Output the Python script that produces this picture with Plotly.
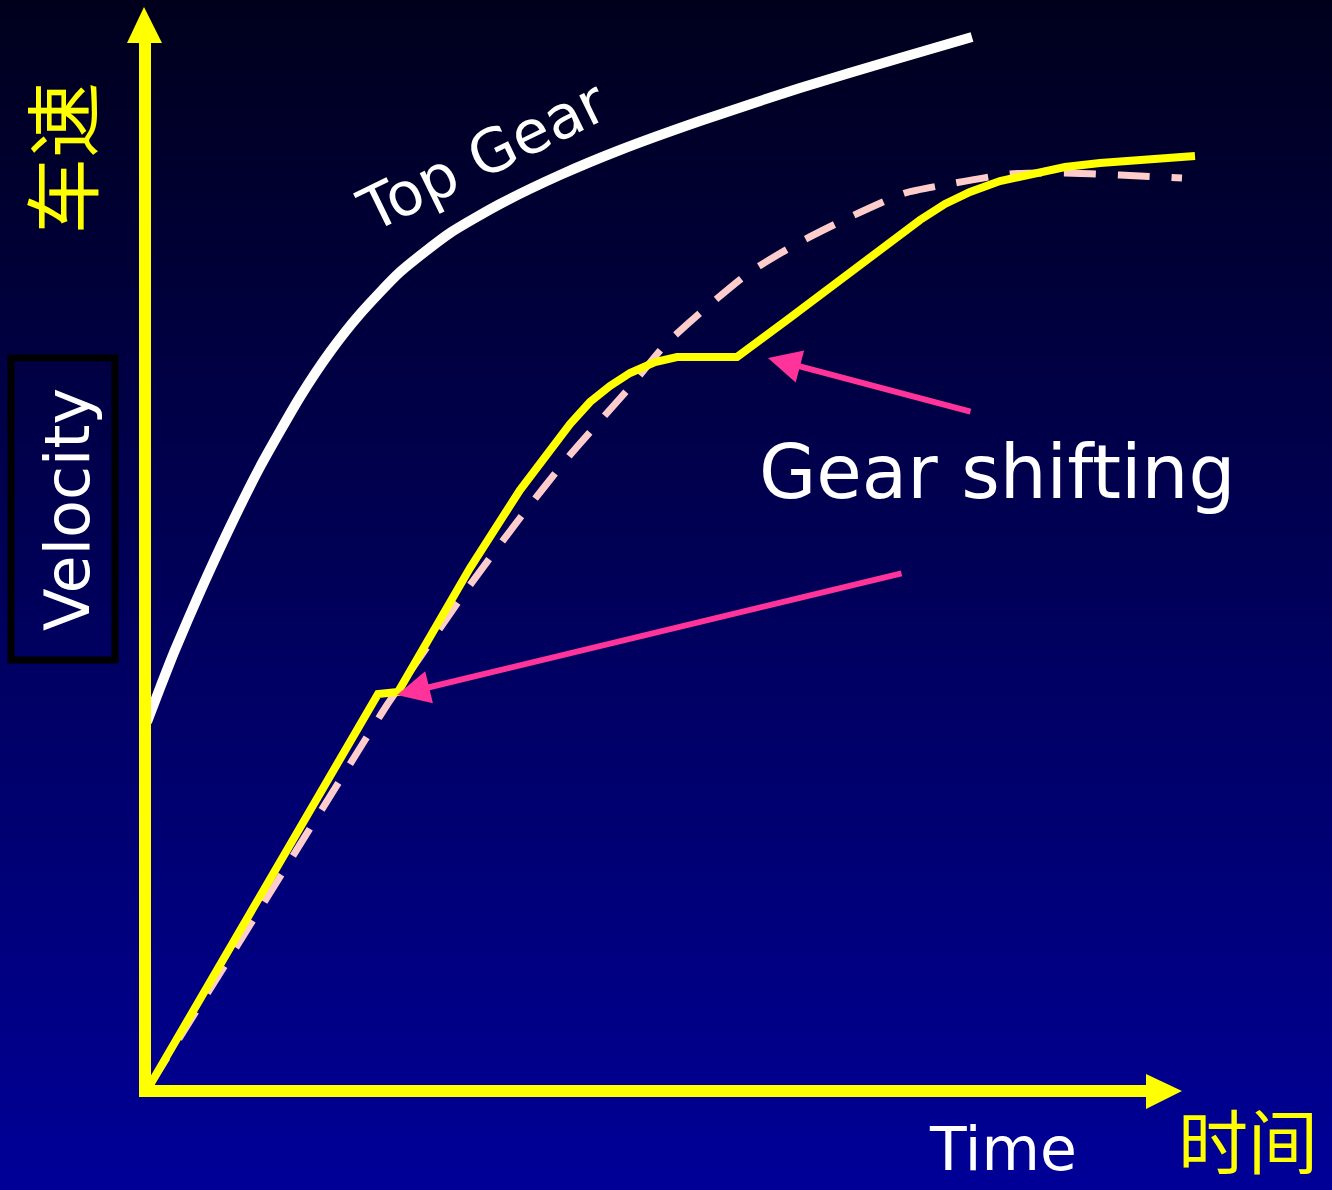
import plotly.graph_objects as go

# ---- data (time, velocity) in chart units ----
top_gear_t = [0.02, 0.15, 0.30, 0.55, 0.85, 1.15, 1.55, 1.85, 2.15, 2.55, 3.05, 3.55, 4.15, 4.75, 5.55, 6.55, 7.55, 8.27]
top_gear_v = [3.69, 4.03, 4.41, 4.99, 5.64, 6.24, 6.94, 7.39, 7.77, 8.19, 8.58, 8.87, 9.16, 9.41, 9.70, 10.03, 10.33, 10.54]

shift_t = [0.05, 2.33, 2.53, 2.83, 3.25, 3.75, 4.00, 4.25, 4.45, 4.65, 4.85, 5.10, 5.32, 5.92, 6.42, 6.95,
           7.35, 7.75, 8.00, 8.25, 8.55, 8.88, 9.20, 9.55, 10.05, 10.50]
shift_v = [0.06, 3.97, 3.99, 4.50, 5.23, 6.01, 6.35, 6.67, 6.89, 7.05, 7.18, 7.29, 7.34, 7.34, 7.71, 8.11,
           8.41, 8.71, 8.87, 8.99, 9.10, 9.18, 9.24, 9.28, 9.32, 9.35]

ideal_t = [0.05, 1.05, 2.20, 2.42, 2.80, 3.25, 3.75, 4.25, 4.85, 5.20, 5.55, 6.05, 6.55, 7.05, 7.60, 8.10, 8.65, 9.20, 9.75, 10.37]
ideal_v = [0.06, 1.66, 3.51, 3.86, 4.41, 5.06, 5.73, 6.36, 7.04, 7.46, 7.78, 8.19, 8.49, 8.74, 8.98, 9.08, 9.17, 9.18, 9.16, 9.13]

# arrows: head and tail positions
arrow_heads_t = [6.23, 2.52]
arrow_heads_v = [7.33, 3.96]
arrow_tails_t = [8.27, 7.58]
arrow_tails_v = [6.79, 5.18]

X_RANGE = [-1.45, 11.87]
Y_RANGE = [-0.99, 10.91]

fig = go.Figure()

# background vertical gradient
shapes = []
N = 120
top = (0, 0, 28)
bot = (0, 0, 152)
for i in range(N):
    f = (i + 0.5) / N
    b = round(top[2] + (bot[2] - top[2]) * f)
    y1 = 1 - i / N
    y0 = 1 - (i + 1) / N - 0.002
    shapes.append(dict(type="rect", xref="paper", yref="paper", x0=0, x1=1,
                       y0=max(y0, 0), y1=y1, fillcolor=f"rgb(0,0,{b})",
                       line=dict(width=0), layer="below"))

AX = "#FFFF00"
# y axis shaft + head
shapes.append(dict(type="line", x0=0, x1=0, y0=-0.06, y1=10.5, line=dict(color=AX, width=12)))
shapes.append(dict(type="path", path="M -0.18 10.48 L 0.17 10.48 L -0.01 10.84 Z",
                   fillcolor=AX, line=dict(width=0)))
# x axis shaft + head
shapes.append(dict(type="line", x0=-0.06, x1=10.05, y0=0, y1=0, line=dict(color=AX, width=12)))
shapes.append(dict(type="path", path="M 10.01 0.17 L 10.01 -0.18 L 10.37 0 Z",
                   fillcolor=AX, line=dict(width=0)))
# Velocity box
shapes.append(dict(type="rect", x0=-1.34, x1=-0.30, y0=4.31, y1=7.33,
                   line=dict(color="black", width=7), fillcolor="rgba(0,0,0,0)"))

fig.add_trace(go.Scatter(x=ideal_t, y=ideal_v, mode="lines",
                         line=dict(color="#FFCCCC", width=7, dash="32px,22px",
                                   shape="spline", smoothing=0.6),
                         hoverinfo="skip", showlegend=False))
fig.add_trace(go.Scatter(x=top_gear_t, y=top_gear_v, mode="lines",
                         line=dict(color="white", width=10, shape="spline", smoothing=0.6),
                         hoverinfo="skip", showlegend=False))
fig.add_trace(go.Scatter(x=shift_t, y=shift_v, mode="lines",
                         line=dict(color="#FFFF00", width=8),
                         hoverinfo="skip", showlegend=False))

annotations = []
for hx, hy, tx, ty in zip(arrow_heads_t, arrow_heads_v, arrow_tails_t, arrow_tails_v):
    annotations.append(dict(x=hx, y=hy, ax=tx, ay=ty, xref="x", yref="y", axref="x", ayref="y",
                            text="", showarrow=True, arrowhead=2, arrowsize=1.1,
                            arrowwidth=6, arrowcolor="#FF3399", standoff=0))

FONT = "DejaVu Sans"
annotations += [
    dict(x=3.37, y=9.35, text="Top Gear", showarrow=False, textangle=-26,
         font=dict(family=FONT, size=60, color="white")),
    dict(x=8.52, y=6.19, text="Gear shifting", showarrow=False,
         font=dict(family=FONT, size=74, color="white")),
    dict(x=8.58, y=-0.58, text="Time", showarrow=False,
         font=dict(family=FONT, size=60, color="white")),
    dict(x=-0.78, y=5.81, text="Velocity", showarrow=False, textangle=-90,
         font=dict(family=FONT, size=62, color="white")),
    dict(x=11.03, y=-0.47, text="时间", showarrow=False,
         font=dict(family="Noto Sans CJK SC", size=70, color="#FFFF00")),
    dict(x=-0.86, y=9.33, text="车速", showarrow=False, textangle=-90,
         font=dict(family="Noto Sans CJK SC", size=76, color="#FFFF00")),
]

fig.update_layout(
    width=1332, height=1190,
    margin=dict(l=0, r=0, t=0, b=0),
    paper_bgcolor="#000050", plot_bgcolor="rgba(0,0,0,0)",
    xaxis=dict(range=X_RANGE, visible=False, fixedrange=True),
    yaxis=dict(range=Y_RANGE, visible=False, fixedrange=True),
    shapes=shapes, annotations=annotations, showlegend=False,
)

fig.write_html("out.html", config={"displayModeBar": False},
               post_script="document.body.style.margin='0';")
